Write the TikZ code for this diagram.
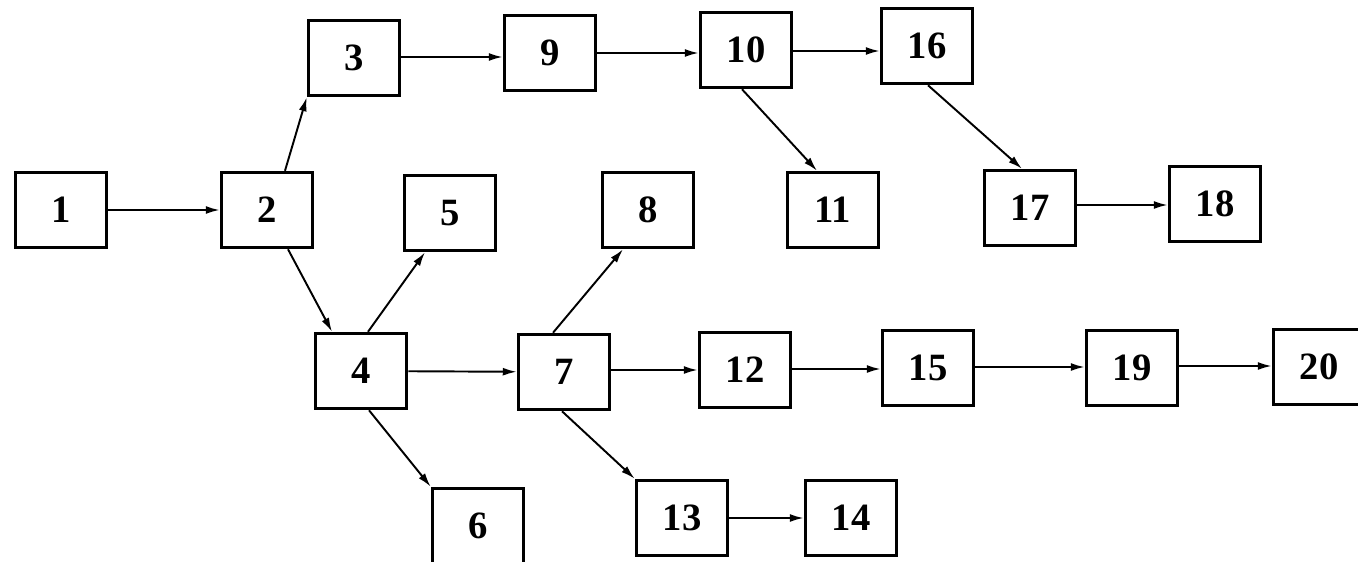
\documentclass[tikz,border=0pt]{standalone}
\usepackage{fontspec}
\setmainfont{Liberation Serif}
\usepackage{tikz}
\usetikzlibrary{arrows.meta, positioning}

\begin{document}
\begin{tikzpicture}[
    x=0.02cm, y=-0.02cm,
    box/.style={draw, rectangle, line width=2pt, inner sep=0pt,
                minimum width=1.82cm, minimum height=1.5cm,
                font=\fontsize{22}{26}\selectfont\bfseries},
    arrow/.style={-{Latex[length=2.8mm, width=1.6mm]}, line width=1.1pt}
]
\useasboundingbox (0,0) rectangle (1358,561);
\clip (0,0) rectangle (1358,561);

% ====================== TOP ROW ======================
\node[box] (b3)  at (354, 58) {3};
\node[box] (b9)  at (550, 53) {9};
\node[box] (b10) at (746, 50) {10};
\node[box] (b16) at (927, 46) {16};

% ====================== MIDDLE ROW ======================
\node[box] (b1)  at (61, 210)   {1};
\node[box] (b2)  at (267, 210)  {2};
\node[box] (b5)  at (450, 213)  {5};
\node[box] (b8)  at (648, 210)  {8};
\node[box] (b11) at (833, 210)  {11};
\node[box] (b17) at (1030, 208) {17};
\node[box] (b18) at (1215, 204) {18};

% ====================== LOWER ROW ======================
\node[box] (b4)  at (361, 371)  {4};
\node[box] (b7)  at (564, 372)  {7};
\node[box] (b12) at (745, 370)  {12};
\node[box] (b15) at (928, 368)  {15};
\node[box] (b19) at (1132, 368) {19};
\node[box] (b20) at (1319, 367) {20};

% ====================== BOTTOM ROW ======================
\node[box] (b6)  at (478, 526) {6};
\node[box] (b13) at (682, 518) {13};
\node[box] (b14) at (851, 518) {14};

% ====================== ARROWS ======================
\draw[arrow] (b1) -- (b2);
\draw[arrow] ([xshift=0.36cm]b2.north) -- (b3.south west);
\draw[arrow] ([xshift=0.42cm]b2.south) -- ([xshift=-0.58cm]b4.north);
\draw[arrow] (b3.east |- 0,57) -- (b9.west |- 0,57);
\draw[arrow] (b9.east |- 0,53) -- (b10.west |- 0,53);
\draw[arrow] (b10.east |- 0,51) -- (b16.west |- 0,51);
\draw[arrow] ([xshift=-0.08cm]b10.south) -- ([xshift=-0.32cm]b11.north);
\draw[arrow] ([xshift=0.02cm]b16.south) -- ([xshift=-0.16cm]b17.north);
\draw[arrow] (b17.east |- 0,205) -- (b18.west |- 0,205);
\draw[arrow] ([xshift=0.14cm]b4.north) -- ([xshift=-0.5cm]b5.south);
\draw[arrow] ([xshift=0.16cm]b4.south) -- (b6.north west);
\draw[arrow] (b4) -- (b7);
\draw[arrow] ([xshift=-0.22cm]b7.north) -- ([xshift=-0.5cm]b8.south);
\draw[arrow] ([xshift=-0.04cm]b7.south) -- (b13.north west);
\draw[arrow] (b7.east |- 0,370) -- (b12.west |- 0,370);
\draw[arrow] (b12.east |- 0,369) -- (b15.west |- 0,369);
\draw[arrow] (b15.east |- 0,367) -- (b19.west |- 0,367);
\draw[arrow] (b19.east |- 0,366) -- (b20.west |- 0,366);
\draw[arrow] (b13) -- (b14);

\end{tikzpicture}
\end{document}
